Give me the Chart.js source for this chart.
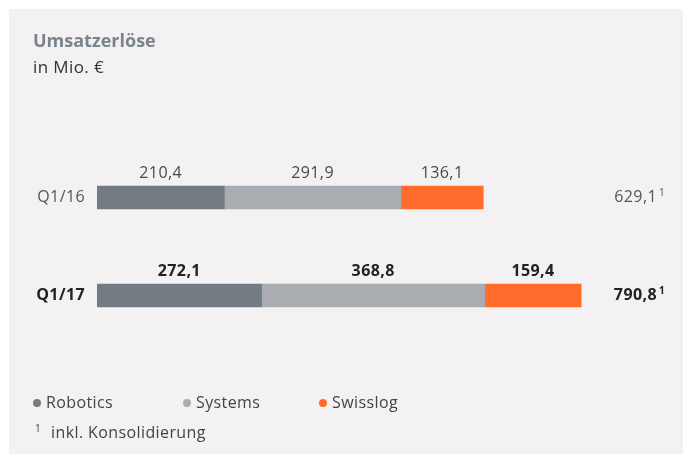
<!DOCTYPE html>
<html>
<head>
<meta charset="utf-8">
<script src="https://cdn.jsdelivr.net/npm/chart.js@4.4.0/dist/chart.umd.min.js"></script>
<style>
  html, body { margin: 0; padding: 0; background: #ffffff; }
  #panel { position: absolute; left: 9px; top: 9px; width: 674px; height: 445px; background: #f3f1f2; }
</style>
</head>
<body>
<div id="panel"><canvas id="myChart" width="674" height="445"></canvas></div>
<script>
var categories = ['Q1/16', 'Q1/17'];
var robotics = [210.4, 272.1];
var systems = [291.9, 368.8];
var swisslog = [136.1, 159.4];
var totals = [629.1, 790.8];
var seriesNames = ['Robotics', 'Systems', 'Swisslog'];
var seriesColors = ['#737b83', '#a9acb0', '#ff6c2c'];

var FONT = '"Open Sans", sans-serif';

function fmt(v) {
  return v.toFixed(1).replace('.', ',');
}

var textPlugin = {
  id: 'textPlugin',
  afterDraw: function(chart) {
    var ctx = chart.ctx;
    var yScale = chart.scales.y;
    ctx.save();
    ctx.textBaseline = 'middle';

    // title
    ctx.textAlign = 'left';
    ctx.fillStyle = '#7b848c';
    ctx.font = 'bold 18px ' + FONT;
    ctx.fillText('Umsatzerlöse', 24, 33);
    ctx.fillStyle = '#333333';
    ctx.font = '17px ' + FONT;
    ctx.letterSpacing = '0.4px';
    ctx.fillText('in Mio. €', 24, 59);

    // value labels above every segment
    chart.data.datasets.forEach(function(ds, di) {
      var meta = chart.getDatasetMeta(di);
      meta.data.forEach(function(bar, i) {
        var bold = i === categories.length - 1;
        ctx.font = (bold ? 'bold ' : '') + '16px ' + FONT;
        ctx.fillStyle = bold ? '#222222' : '#4a4a4a';
        ctx.textAlign = 'center';
        var cx = (bar.x + bar.base) / 2;
        ctx.fillText(fmt(ds.data[i]), cx, bar.y - 24);
      });
    });

    // category labels and totals
    categories.forEach(function(c, i) {
      var y = yScale.getPixelForValue(i);
      var bold = i === categories.length - 1;
      ctx.font = (bold ? 'bold ' : '') + '16px ' + FONT;
      ctx.fillStyle = bold ? '#222222' : '#555555';
      ctx.textAlign = 'right';
      ctx.fillText(c, 76, y);
      ctx.fillText(fmt(totals[i]), 648, y);
      ctx.textAlign = 'left';
      ctx.font = (bold ? 'bold ' : '') + '10px ' + FONT;
      ctx.fillText('1', 650, y - 4);
    });

    // legend
    var legendX = [28, 178, 314];
    seriesNames.forEach(function(name, i) {
      ctx.fillStyle = seriesColors[i];
      ctx.beginPath();
      ctx.arc(legendX[i], 394, 4, 0, Math.PI * 2);
      ctx.fill();
      ctx.fillStyle = '#444444';
      ctx.font = '16px ' + FONT;
      ctx.textAlign = 'left';
      ctx.fillText(name, legendX[i] + 9, 394);
    });

    // footnote
    ctx.fillStyle = '#444444';
    ctx.font = '10px ' + FONT;
    ctx.fillText('1', 26, 420);
    ctx.font = '16px ' + FONT;
    ctx.fillText('inkl. Konsolidierung', 42, 424);
    ctx.restore();
  }
};

var ctx = document.getElementById('myChart').getContext('2d');
var myChart = new Chart(ctx, {
  type: 'bar',
  data: {
    labels: categories,
    datasets: [
      { label: seriesNames[0], data: robotics, backgroundColor: seriesColors[0] },
      { label: seriesNames[1], data: systems, backgroundColor: seriesColors[1] },
      { label: seriesNames[2], data: swisslog, backgroundColor: seriesColors[2] }
    ]
  },
  options: {
    indexAxis: 'y',
    responsive: false,
    animation: false,
    barThickness: 23,
    borderWidth: 0,
    layout: { padding: { left: 88, right: 41.5, top: 139.5, bottom: 109.5 } },
    scales: {
      x: { stacked: true, min: 0, max: 900, display: false },
      y: { stacked: true, display: false }
    },
    plugins: {
      legend: { display: false },
      tooltip: { enabled: false }
    }
  },
  plugins: [textPlugin]
});
</script>
</body>
</html>
